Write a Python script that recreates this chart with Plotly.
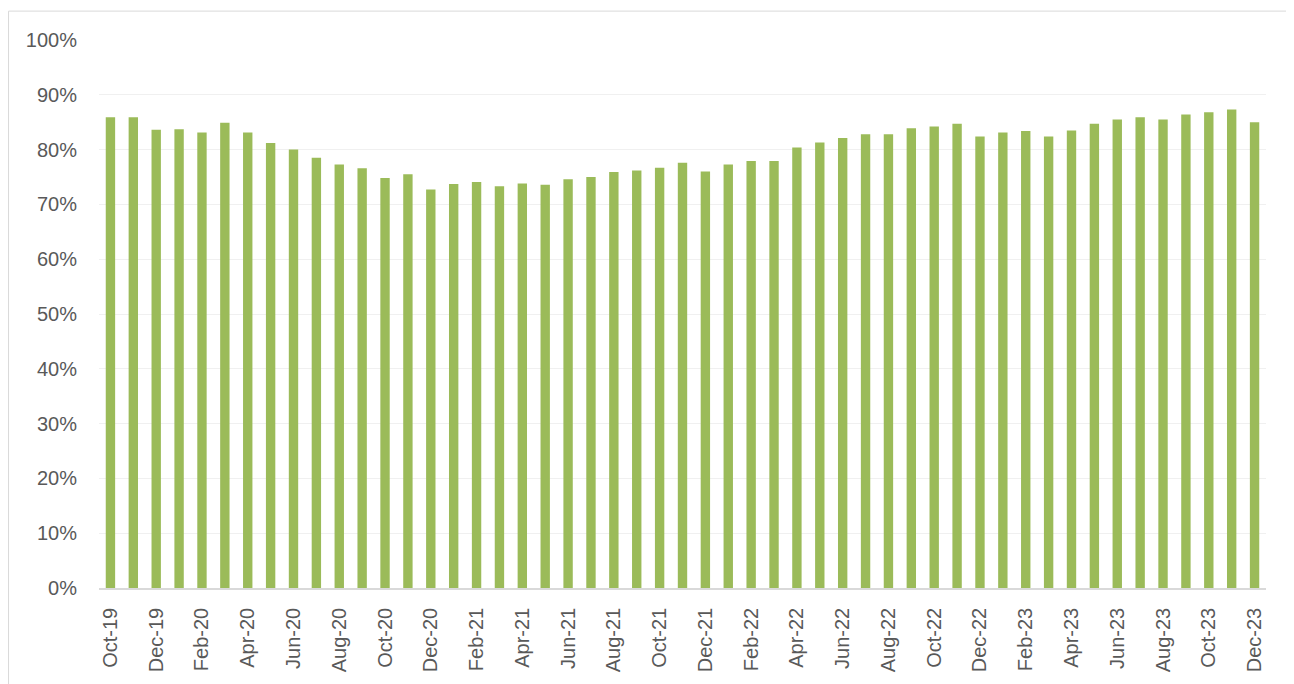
import plotly.graph_objects as go

months = ["Oct-19", "Nov-19", "Dec-19",
          "Jan-20", "Feb-20", "Mar-20", "Apr-20", "May-20", "Jun-20", "Jul-20", "Aug-20", "Sep-20", "Oct-20", "Nov-20", "Dec-20",
          "Jan-21", "Feb-21", "Mar-21", "Apr-21", "May-21", "Jun-21", "Jul-21", "Aug-21", "Sep-21", "Oct-21", "Nov-21", "Dec-21",
          "Jan-22", "Feb-22", "Mar-22", "Apr-22", "May-22", "Jun-22", "Jul-22", "Aug-22", "Sep-22", "Oct-22", "Nov-22", "Dec-22",
          "Jan-23", "Feb-23", "Mar-23", "Apr-23", "May-23", "Jun-23", "Jul-23", "Aug-23", "Sep-23", "Oct-23", "Nov-23", "Dec-23"]

values = [85.9, 85.9, 83.6, 83.7, 83.1, 84.9, 83.1, 81.2, 80.0, 78.5, 77.3, 76.6, 74.8, 75.5, 72.7, 73.7, 74.1,
          73.3, 73.8, 73.6, 74.6, 75.0, 75.9, 76.2, 76.7, 77.6, 76.0, 77.3, 77.9, 77.9, 80.4, 81.3, 82.1, 82.8,
          82.8, 83.9, 84.2, 84.7, 82.4, 83.1, 83.4, 82.4, 83.5, 84.7, 85.5, 85.9, 85.5, 86.4, 86.8, 87.3, 85.0]

tick_labels = months[::2]
y_ticks = [0, 0.1, 0.2, 0.3, 0.4, 0.5, 0.6, 0.7, 0.8, 0.9, 1.0]

fig = go.Figure(go.Bar(
    x=months,
    y=[v / 100 for v in values],
    marker=dict(color="#9BBB59", line=dict(width=0)),
))

font = "Liberation Sans, Arial, sans-serif"
border = dict(color="#D9D9D9", width=1)
fig.update_layout(
    width=1286, height=676,
    margin=dict(l=91, r=28, t=32, b=94),
    paper_bgcolor="white", plot_bgcolor="white",
    bargap=0.59,
    showlegend=False,
    font=dict(family=font, size=20, color="#595959"),
    shapes=[
        dict(type="line", xref="paper", yref="paper", x0=-0.0775, x1=1.2, y0=1.0527, y1=1.0527,
             line=border, layer="below"),
        dict(type="line", xref="paper", yref="paper", x0=-0.0775, x1=-0.0775, y0=-0.4, y1=1.0527,
             line=border, layer="below"),
    ],
)
fig.update_xaxes(
    type="category", range=[-0.5, len(months) - 0.5],
    tickmode="array", tickvals=tick_labels, ticktext=tick_labels,
    tickangle=-90, showgrid=False,
    showline=True, linecolor="#D9D9D9", linewidth=1.5,
    ticks="outside", ticklen=10, tickcolor="rgba(0,0,0,0)",
    tickfont=dict(family=font, size=20, color="#595959"),
)
fig.update_yaxes(
    range=[0, 1.0], tickmode="array", tickvals=y_ticks, tickformat=".0%",
    showgrid=True, gridcolor="#F0F0F0", gridwidth=1,
    zeroline=False, showline=False,
    ticks="outside", ticklen=17, tickcolor="rgba(0,0,0,0)",
    tickfont=dict(family=font, size=20, color="#595959"),
)

fig.write_html("out.html")
